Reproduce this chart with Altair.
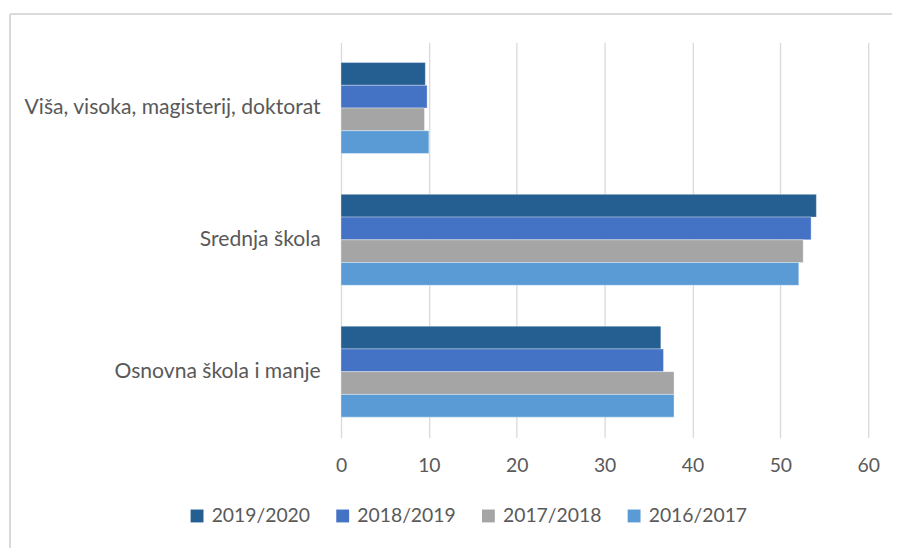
import altair as alt
import pandas as pd

categories = ["Viša, visoka, magisterij, doktorat", "Srednja škola", "Osnovna škola i manje"]
series = ["2019/2020", "2018/2019", "2017/2018", "2016/2017"]
colors = ["#255E91", "#4472C4", "#A5A5A5", "#5B9BD5"]
v_2019_2020 = [9.6, 54.1, 36.4]
v_2018_2019 = [9.8, 53.5, 36.7]
v_2017_2018 = [9.5, 52.6, 37.9]
v_2016_2017 = [10.0, 52.1, 37.9]
x_ticks = [0, 10, 20, 30, 40, 50, 60]

values = [v_2019_2020, v_2018_2019, v_2017_2018, v_2016_2017]
rows = []
for s, vals in zip(series, values):
    for c, v in zip(categories, vals):
        rows.append({"category": c, "series": s, "value": v})
df = pd.DataFrame(rows)

FONT = "Lato"
TXT = "#595959"
GRID = "#D9D9D9"

bars = alt.Chart(df).mark_bar(stroke="white", strokeWidth=0.6, strokeOpacity=0.6).encode(
    x=alt.X("value:Q",
            scale=alt.Scale(domain=[0, 60], nice=False, zero=True),
            axis=alt.Axis(values=x_ticks, title=None, grid=True, gridColor=GRID, gridWidth=1.3,
                          domain=False, ticks=False, labelPadding=19, labelFontSize=19.5,
                          labelFlush=False, labelColor=TXT, labelFont=FONT)),
    y=alt.Y("category:N", sort=categories,
            scale=alt.Scale(paddingInner=0.31, paddingOuter=0.155),
            axis=alt.Axis(title=None, domain=False, ticks=False, grid=False, labelPadding=21,
                          labelFontSize=21.3, labelColor=TXT, labelFont=FONT, labelLimit=400)),
    yOffset=alt.YOffset("series:N", sort=series),
    color=alt.Color("series:N", sort=series,
                    scale=alt.Scale(domain=series, range=colors),
                    legend=alt.Legend(title=None, orient="none", direction="horizontal",
                                      legendX=-155, legendY=468, columns=4,
                                      symbolType="square", symbolSize=169, symbolStrokeWidth=0,
                                      labelFontSize=19.5, labelColor=TXT, labelFont=FONT,
                                      labelOffset=5, columnPadding=23, padding=0)),
)

frame_left = alt.Chart(df).mark_rule(stroke=GRID, strokeWidth=1.3).encode(
    x=alt.value(-334), y=alt.value(-28), y2=alt.value(700)
)
frame_top = alt.Chart(df).mark_rule(stroke=GRID, strokeWidth=1.3).encode(
    x=alt.value(-334), x2=alt.value(700), y=alt.value(-28)
)

chart = alt.layer(frame_left, frame_top, bars).properties(
    width=532, height=399,
    autosize=alt.AutoSizeParams(type="none"),
    padding={"left": 336, "top": 32, "right": 24, "bottom": 109},
).configure_view(stroke=None)

chart.save("out.html", embed_options={"renderer": "svg", "actions": False})
